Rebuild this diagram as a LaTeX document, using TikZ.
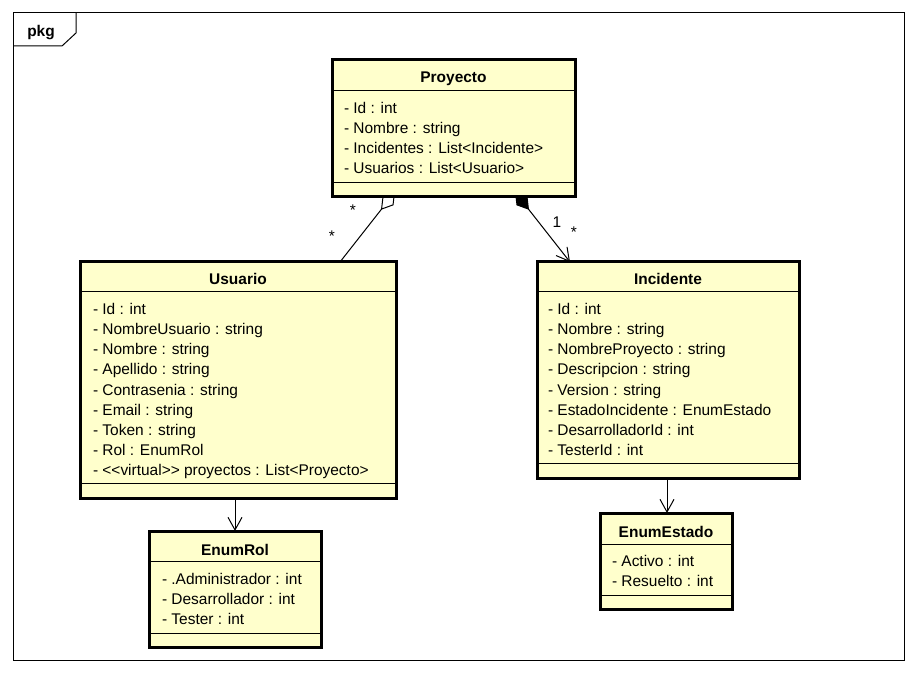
\documentclass[tikz,border=0pt]{standalone}
\usepackage{fontspec}
\setmainfont{Liberation Sans}[Ligatures=TeXOff]
\usetikzlibrary{arrows.meta,backgrounds}
\definecolor{classfill}{HTML}{FFFFCC}

\begin{document}
\begin{tikzpicture}[x=0.75pt,y=-0.75pt,
  every node/.style={font=\fontsize{11.6}{14}\selectfont, inner sep=0pt, outer sep=0pt},
  classbox/.style={draw=black, line width=2.25pt, fill=classfill, rectangle, anchor=north west},
  sepline/.style={line width=0.75pt},
  title/.style={font=\fontsize{11.6}{14}\selectfont\bfseries, anchor=base},
  attr/.style={anchor=base west},
  link/.style={line width=0.75pt},
  mult/.style={anchor=base},
  openhead/.style={-{Straight Barb[length=9.5pt,width=10.5pt]}},
]
\useasboundingbox (0,0) rectangle (917,673);

% package frame with its name tab
\draw[line width=0.75pt] (13,13) rectangle (904,660);
\draw[line width=0.75pt] (13,46) -- (62,46) -- (76,33) -- (76,13);
\node[font=\fontsize{11.6}{14}\selectfont\bfseries] (pkg) at (41,33) {pkg};

% classes
\node[classbox, minimum width=182.25pt, minimum height=102.75pt] (proyecto) at (332,60) {};
\node[classbox, minimum width=237pt, minimum height=177pt] (usuario) at (80,262) {};
\node[classbox, minimum width=196.5pt, minimum height=162pt] (incidente) at (537,262) {};
\node[classbox, minimum width=129pt, minimum height=87pt] (enumrol) at (149,531) {};
\node[classbox, minimum width=99pt, minimum height=72pt] (enumestado) at (600,513) {};

% compartment separators
\draw[sepline] (proyecto.west |- 0,91) -- (proyecto.east |- 0,91);
\draw[sepline] (proyecto.west |- 0,183) -- (proyecto.east |- 0,183);
\draw[sepline] (usuario.west |- 0,292) -- (usuario.east |- 0,292);
\draw[sepline] (usuario.west |- 0,483) -- (usuario.east |- 0,483);
\draw[sepline] (incidente.west |- 0,292) -- (incidente.east |- 0,292);
\draw[sepline] (incidente.west |- 0,463) -- (incidente.east |- 0,463);
\draw[sepline] (enumrol.west |- 0,561) -- (enumrol.east |- 0,561);
\draw[sepline] (enumrol.west |- 0,633) -- (enumrol.east |- 0,633);
\draw[sepline] (enumestado.west |- 0,544) -- (enumestado.east |- 0,544);
\draw[sepline] (enumestado.west |- 0,595) -- (enumestado.east |- 0,595);

% Proyecto
\node[title] (proyectoT) at (proyecto.north |- 0,83) {Proyecto};
\node[attr] (p1) at (344,114) {- Id : int};
\node[attr] (p2) at (344,134) {- Nombre : string};
\node[attr] (p3) at (344,154) {- Incidentes : List<Incidente>};
\node[attr] (p4) at (344,174) {- Usuarios : List<Usuario>};

% Usuario
\node[title] (usuarioT) at (usuario.north |- 0,285) {Usuario};
\node[attr] (u1) at (93,315) {- Id : int};
\node[attr] (u2) at (93,335) {- NombreUsuario : string};
\node[attr] (u3) at (93,355) {- Nombre : string};
\node[attr] (u4) at (93,375) {- Apellido : string};
\node[attr] (u5) at (93,395) {- Contrasenia : string};
\node[attr] (u6) at (93,415) {- Email : string};
\node[attr] (u7) at (93,435) {- Token : string};
\node[attr] (u8) at (93,455) {- Rol : EnumRol};
\node[attr] (u9) at (93,475) {- <<virtual>> proyectos : List<Proyecto>};

% Incidente
\node[title] (incidenteT) at (incidente.north |- 0,285) {Incidente};
\node[attr] (i1) at (548,315) {- Id : int};
\node[attr] (i2) at (548,335) {- Nombre : string};
\node[attr] (i3) at (548,355) {- NombreProyecto : string};
\node[attr] (i4) at (548,375) {- Descripcion : string};
\node[attr] (i5) at (548,395) {- Version : string};
\node[attr] (i6) at (548,415) {- EstadoIncidente : EnumEstado};
\node[attr] (i7) at (548,435) {- DesarrolladorId : int};
\node[attr] (i8) at (548,455) {- TesterId : int};

% EnumRol
\node[title] (enumrolT) at (enumrol.north |- 0,555) {EnumRol};
\node[attr] (r1) at (162,584) {- .Administrador : int};
\node[attr] (r2) at (162,604) {- Desarrollador : int};
\node[attr] (r3) at (162,624) {- Tester : int};

% EnumEstado
\node[title] (enumestadoT) at (enumestado.north |- 0,537) {EnumEstado};
\node[attr] (e1) at (612,566) {- Activo : int};
\node[attr] (e2) at (612,586) {- Resuelto : int};

% relationships, drawn beneath the class boxes
\coordinate (aggTip) at (395,192);
\coordinate (compTip) at (515,192);
\begin{scope}[on background layer]
  \draw[link, -{Diamond[fill=white,length=17pt,width=10.5pt]}]
    (usuario.north -| 340,0) -- (aggTip);
  \draw[link, {Diamond[length=17pt,width=10.5pt]}-{Straight Barb[length=9.5pt,width=10.5pt]}]
    (compTip) -- (incidente.north -| 570,0);
\end{scope}
\draw[link, openhead] (usuario.south -| 235,0) -- (enumrol.north -| 235,0);
\draw[link, openhead] (incidente.south -| 667,0) -- (enumestado.north -| 667,0);

% multiplicities
\node[mult] (m1) at (353,216) {*};
\node[mult] (m2) at (332,242) {*};
\node[mult] (m3) at (557,228) {1};
\node[mult] (m4) at (574,238) {*};
\end{tikzpicture}
\end{document}
